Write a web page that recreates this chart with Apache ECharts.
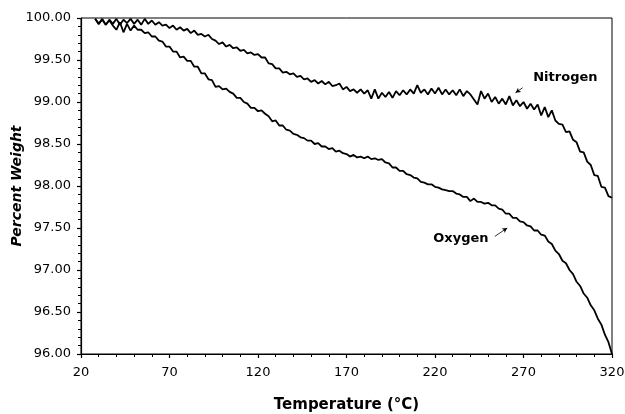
<!DOCTYPE html>
<html>
<head>
<meta charset="utf-8">
<script src="https://cdn.jsdelivr.net/npm/echarts@6/dist/echarts.min.js"></script>
<style>
  html, body { margin: 0; padding: 0; background: #fff; }
  #chart { width: 625px; height: 414px; }
</style>
</head>
<body>
<div id="chart"></div>
<script>
// Temperature readings (°C), every 2 degrees
const temps = [
  28, 30, 32, 34, 36, 38, 40, 42, 44, 46,
  48, 50, 52, 54, 56, 58, 60, 62, 64, 66,
  68, 70, 72, 74, 76, 78, 80, 82, 84, 86,
  88, 90, 92, 94, 96, 98, 100, 102, 104, 106,
  108, 110, 112, 114, 116, 118, 120, 122, 124, 126,
  128, 130, 132, 134, 136, 138, 140, 142, 144, 146,
  148, 150, 152, 154, 156, 158, 160, 162, 164, 166,
  168, 170, 172, 174, 176, 178, 180, 182, 184, 186,
  188, 190, 192, 194, 196, 198, 200, 202, 204, 206,
  208, 210, 212, 214, 216, 218, 220, 222, 224, 226,
  228, 230, 232, 234, 236, 238, 240, 242, 244, 246,
  248, 250, 252, 254, 256, 258, 260, 262, 264, 266,
  268, 270, 272, 274, 276, 278, 280, 282, 284, 286,
  288, 290, 292, 294, 296, 298, 300, 302, 304, 306,
  308, 310, 312, 314, 316, 318, 320
];

// Percent weight under nitrogen
const nitrogen = [
  99.99, 99.93, 99.99, 99.92, 99.98, 99.93, 99.99, 99.92, 99.98, 99.94,
  99.99, 99.93, 99.98, 99.92, 99.99, 99.93, 99.97, 99.92, 99.95, 99.91,
  99.92, 99.88, 99.91, 99.86, 99.89, 99.85, 99.87, 99.82, 99.85, 99.80,
  99.81, 99.78, 99.80, 99.75, 99.73, 99.69, 99.71, 99.66, 99.68, 99.64,
  99.65, 99.61, 99.62, 99.58, 99.59, 99.56, 99.57, 99.53, 99.53, 99.46,
  99.45, 99.40, 99.40, 99.35, 99.36, 99.33, 99.34, 99.30, 99.31, 99.27,
  99.28, 99.24, 99.26, 99.22, 99.25, 99.21, 99.24, 99.19, 99.20, 99.22,
  99.15, 99.18, 99.13, 99.15, 99.11, 99.15, 99.10, 99.14, 99.04, 99.15,
  99.04, 99.11, 99.06, 99.12, 99.05, 99.13, 99.08, 99.14, 99.09, 99.15,
  99.10, 99.20, 99.11, 99.15, 99.09, 99.16, 99.10, 99.17, 99.09, 99.15,
  99.09, 99.14, 99.08, 99.15, 99.07, 99.13, 99.09, 99.03, 98.97, 99.13,
  99.04, 99.10, 99.00, 99.06, 98.98, 99.04, 98.97, 99.07, 98.96, 99.02,
  98.95, 99.00, 98.92, 98.98, 98.91, 98.97, 98.84, 98.94, 98.82, 98.90,
  98.78, 98.74, 98.73, 98.64, 98.65, 98.55, 98.52, 98.41, 98.40, 98.29,
  98.25, 98.13, 98.12, 97.99, 97.98, 97.88, 97.86
];

// Percent weight under oxygen
const oxygen = [
  99.99, 99.93, 99.98, 99.92, 99.97, 99.91, 99.86, 99.95, 99.83, 99.93,
  99.85, 99.91, 99.86, 99.86, 99.82, 99.83, 99.78, 99.78, 99.73, 99.72,
  99.66, 99.66, 99.60, 99.60, 99.53, 99.54, 99.49, 99.49, 99.42, 99.42,
  99.34, 99.34, 99.27, 99.26, 99.18, 99.19, 99.15, 99.16, 99.12, 99.10,
  99.05, 99.05, 99.00, 98.98, 98.93, 98.93, 98.89, 98.90, 98.86, 98.83,
  98.77, 98.78, 98.72, 98.72, 98.67, 98.66, 98.62, 98.61, 98.58, 98.57,
  98.54, 98.54, 98.50, 98.51, 98.47, 98.47, 98.44, 98.45, 98.41, 98.42,
  98.39, 98.38, 98.35, 98.37, 98.34, 98.35, 98.33, 98.35, 98.32, 98.33,
  98.31, 98.32, 98.28, 98.27, 98.22, 98.22, 98.18, 98.18, 98.14, 98.13,
  98.10, 98.09, 98.05, 98.04, 98.02, 98.02, 97.99, 97.98, 97.96, 97.95,
  97.94, 97.94, 97.91, 97.90, 97.87, 97.87, 97.82, 97.85, 97.81, 97.81,
  97.79, 97.80, 97.77, 97.77, 97.73, 97.72, 97.67, 97.67, 97.62, 97.62,
  97.58, 97.57, 97.53, 97.52, 97.47, 97.47, 97.42, 97.41, 97.34, 97.31,
  97.23, 97.19, 97.11, 97.08, 97.00, 96.95, 96.86, 96.81, 96.72, 96.67,
  96.58, 96.52, 96.42, 96.35, 96.23, 96.14, 96.00
];

// Axis ranges and tick spacing
const xMin = 20, xMax = 320, xStep = 50;
const yMin = 96, yMax = 100, yStep = 0.5;

// Callout positions in data units: label anchor, arrow tail, arrow head
const nitrogenNote = { text: 'Nitrogen', at: [275.5, 99.29], from: [269.5, 99.17], to: [265.5, 99.11] };
const oxygenNote = { text: 'Oxygen', at: [219, 97.37], from: [253.8, 97.40], to: [260.8, 97.50] };

const font = 'DejaVu Sans, Verdana, sans-serif';

function pairs(xs, ys) {
  return xs.map((x, i) => [x, ys[i]]);
}

function callout(note, pos) {
  return {
    markPoint: {
      silent: true,
      symbol: 'circle',
      symbolSize: 0,
      data: [{ coord: note.at, value: note.text }],
      label: {
        show: true,
        position: pos,
        distance: 0,
        formatter: note.text,
        color: '#000',
        fontFamily: font,
        fontWeight: 'bold',
        fontSize: 13
      }
    },
    markLine: {
      silent: true,
      symbol: ['none', 'arrow'],
      symbolSize: [4, 5],
      lineStyle: { color: '#000', width: 0.8, type: 'solid' },
      label: { show: false },
      data: [[{ coord: note.from }, { coord: note.to }]]
    }
  };
}

const chart = echarts.init(document.getElementById('chart'), null, { renderer: 'canvas' });

chart.setOption({
  animation: false,
  backgroundColor: '#fff',
  grid: {
    left: 81, right: 13, top: 18, bottom: 60,
    containLabel: false,
    outerBoundsMode: 'none',
    show: true, borderColor: '#000', borderWidth: 1, backgroundColor: 'transparent'
  },
  xAxis: {
    type: 'value',
    min: xMin, max: xMax, interval: xStep,
    name: 'Temperature (°C)',
    nameLocation: 'middle',
    nameGap: 44,
    nameMoveOverlap: false,
    nameTextStyle: { fontFamily: font, fontWeight: 'bold', fontSize: 15, color: '#000' },
    axisLine: { show: true, lineStyle: { color: '#000', width: 1.2 } },
    axisTick: { show: true, length: 4, lineStyle: { color: '#000', width: 1.2 } },
    minorTick: { show: true, splitNumber: 5, length: 3, lineStyle: { color: '#000', width: 1 } },
    splitLine: { show: false },
    axisLabel: { fontFamily: font, fontSize: 13, color: '#000', margin: 12 }
  },
  yAxis: {
    type: 'value',
    min: yMin, max: yMax, interval: yStep,
    name: 'Percent Weight',
    nameLocation: 'middle',
    nameGap: 57,
    nameMoveOverlap: false,
    nameTextStyle: { fontFamily: font, fontWeight: 'bold', fontStyle: 'italic', fontSize: 14, color: '#000' },
    axisLine: { show: true, lineStyle: { color: '#000', width: 1.2 } },
    axisTick: { show: true, length: 4, lineStyle: { color: '#000', width: 1.2 } },
    minorTick: { show: true, splitNumber: 5, length: 3, lineStyle: { color: '#000', width: 1 } },
    splitLine: { show: false },
    axisLabel: {
      fontFamily: font, fontSize: 13, color: '#000', margin: 10,
      formatter: v => v.toFixed(2)
    }
  },
  series: [
    Object.assign({
      name: 'Nitrogen',
      type: 'line',
      data: pairs(temps, nitrogen),
      showSymbol: false,
      symbol: 'none',
      lineStyle: { color: '#000', width: 1.8 },
      z: 3
    }, callout(nitrogenNote, 'right')),
    Object.assign({
      name: 'Oxygen',
      type: 'line',
      data: pairs(temps, oxygen),
      showSymbol: false,
      symbol: 'none',
      lineStyle: { color: '#000', width: 1.8 },
      z: 3
    }, callout(oxygenNote, 'right'))
  ]
});
</script>
</body>
</html>
